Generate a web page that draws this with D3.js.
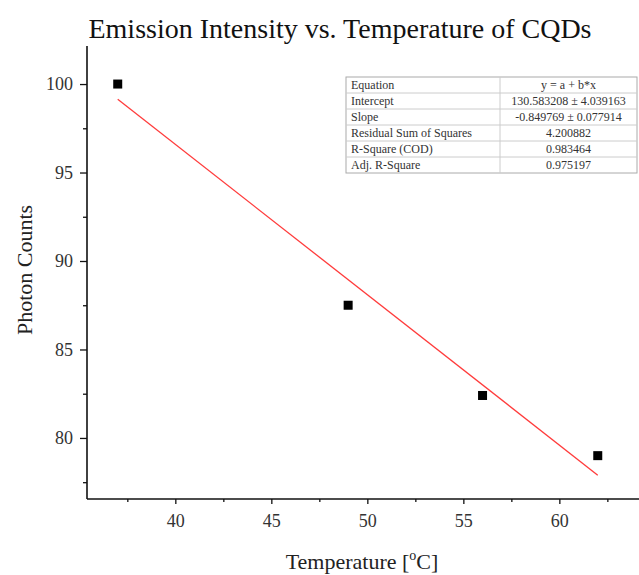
<!DOCTYPE html>
<html>
<head>
<meta charset="utf-8">
<script src="https://cdn.jsdelivr.net/npm/d3@7"></script>
<style>
  html, body { margin: 0; padding: 0; background: #fff; }
  svg { display: block; }
  text { font-family: "Liberation Serif", "Times New Roman", serif; }
</style>
</head>
<body>
<svg id="chart" width="639" height="575"></svg>
<script>
// ---- data ----
const temperatures = [37, 49, 56, 62];
const photonCounts = [100, 87.5, 82.4, 79];
const fitIntercept = 130.583208;
const fitSlope = -0.849769;
const xTicks = [40, 45, 50, 55, 60];
const xMinorTicks = [37.5, 42.5, 47.5, 52.5, 57.5, 62.5];
const yTicks = [80, 85, 90, 95, 100];
const yMinorTicks = [77.5, 82.5, 87.5, 92.5, 97.5];
const tableLabels = ["Equation", "Intercept", "Slope", "Residual Sum of Squares", "R-Square (COD)", "Adj. R-Square"];
const tableValues = ["y = a + b*x", "130.583208 \u00b1 4.039163", "-0.849769 \u00b1 0.077914", "4.200882", "0.983464", "0.975197"];

const svg = d3.select("#chart");
const x = d3.scaleLinear().domain([35.4, 64.2]).range([87, 640]);
const y = d3.scaleLinear().domain([76.55, 102.15]).range([499, 46]);

// title
svg.append("text").attr("x", 340).attr("y", 38).attr("text-anchor", "middle")
  .attr("font-size", 28).attr("fill", "#111")
  .text("Emission Intensity vs. Temperature of CQDs");

// x axis
const xAxisG = svg.append("g").attr("transform", "translate(0,499)");
xAxisG.call(d3.axisBottom(x).tickValues(xTicks).tickSize(5).tickPadding(10).tickFormat(d3.format("d")));
svg.append("g").attr("transform", "translate(0,499)")
  .call(d3.axisBottom(x).tickValues(xMinorTicks).tickSize(3).tickFormat(""))
  .call(g => g.select(".domain").remove());

// y axis
const yAxisG = svg.append("g").attr("transform", "translate(87,0)");
yAxisG.call(d3.axisLeft(y).tickValues(yTicks).tickSize(7).tickPadding(7).tickFormat(d3.format("d")));
svg.append("g").attr("transform", "translate(87,0)")
  .call(d3.axisLeft(y).tickValues(yMinorTicks).tickSize(4).tickFormat(""))
  .call(g => g.select(".domain").remove());

svg.selectAll(".domain").attr("stroke", "#111").attr("stroke-width", 1.6);
svg.selectAll(".tick line").attr("stroke", "#111").attr("stroke-width", 1.3);
svg.selectAll(".tick text").attr("font-size", 18).attr("fill", "#333")
  .attr("font-family", "Liberation Serif, serif");
xAxisG.select(".domain").attr("d", `M87,0H640`);
yAxisG.select(".domain").attr("d", `M0,${y.range()[1]}V${y.range()[0]}`);

// axis titles
svg.append("text").attr("transform", "translate(32,270) rotate(-90)")
  .attr("text-anchor", "middle").attr("font-size", 22).attr("fill", "#222")
  .text("Photon Counts");
const xt = svg.append("text").attr("x", 362).attr("y", 569)
  .attr("text-anchor", "middle").attr("font-size", 22).attr("fill", "#222");
xt.append("tspan").text("Temperature [");
xt.append("tspan").attr("font-size", 14).attr("dy", -9).text("o");
xt.append("tspan").attr("dy", 9).text("C]");

// fit line
const fitX = [d3.min(temperatures), d3.max(temperatures)];
svg.append("line")
  .attr("x1", x(fitX[0])).attr("y1", y(fitIntercept + fitSlope * fitX[0]))
  .attr("x2", x(fitX[1])).attr("y2", y(fitIntercept + fitSlope * fitX[1]))
  .attr("stroke", "#ff3b3b").attr("stroke-width", 1.3);

// points
const pts = temperatures.map((t, i) => ({t, v: photonCounts[i]}));
svg.selectAll(".pt").data(pts).enter().append("rect")
  .attr("x", d => x(d.t) - 4.5).attr("y", d => y(d.v) - 4.5)
  .attr("width", 9).attr("height", 9).attr("fill", "#000");

// stats table
const tX = 346, tY = 77, rowH = 16, colSplit = 500, tRight = 637;
const tbl = svg.append("g");
tbl.append("rect").attr("x", tX).attr("y", tY).attr("width", tRight - tX)
  .attr("height", rowH * tableLabels.length).attr("fill", "#fff")
  .attr("stroke", "#aaa").attr("stroke-width", 1);
tableLabels.forEach((lab, i) => {
  if (i > 0) tbl.append("line").attr("x1", tX).attr("x2", tRight)
    .attr("y1", tY + i * rowH).attr("y2", tY + i * rowH)
    .attr("stroke", "#ccc").attr("stroke-width", 1);
  tbl.append("text").attr("x", tX + 5).attr("y", tY + i * rowH + 12)
    .attr("font-size", 12).attr("fill", "#333").text(lab);
  tbl.append("text").attr("x", (colSplit + tRight) / 2).attr("y", tY + i * rowH + 12)
    .attr("text-anchor", "middle").attr("font-size", 12).attr("fill", "#333")
    .text(tableValues[i]);
});
tbl.append("line").attr("x1", colSplit).attr("x2", colSplit)
  .attr("y1", tY).attr("y2", tY + rowH * tableLabels.length)
  .attr("stroke", "#ccc").attr("stroke-width", 1);
</script>
</body>
</html>
